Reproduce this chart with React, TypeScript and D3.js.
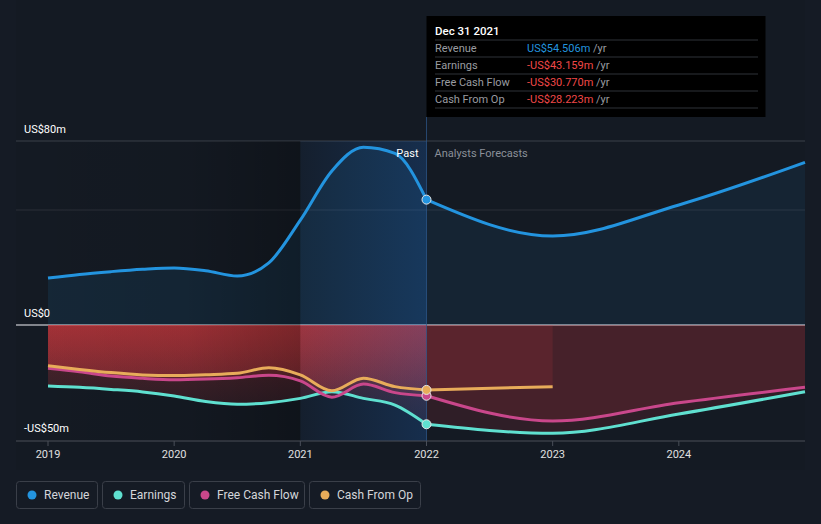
import React from "react";
import * as d3 from "d3";

const W = 821;
const H = 524;

const pastYears = [2019, 2019.25, 2019.5, 2019.75, 2020, 2020.25, 2020.5, 2020.75, 2021, 2021.25, 2021.5, 2021.75, 2022];
const revenuePast = [20.4, 22.0, 23.2, 24.2, 24.8, 23.6, 21.3, 27.0, 45.6, 67.0, 77.3, 74.6, 54.506];
const earningsPast = [-26.5, -27.1, -28.0, -29.1, -30.9, -33.3, -34.5, -33.8, -31.9, -29.0, -31.9, -34.8, -43.159];
const fcfPast = [-18.8, -20.3, -22.2, -23.2, -23.8, -23.5, -22.9, -21.9, -24.3, -31.4, -25.7, -29.4, -30.77];
const cfoPast = [-17.7, -19.3, -20.7, -21.7, -22.0, -21.6, -21.0, -18.6, -21.7, -28.6, -23.2, -26.8, -28.223];

const fcYears = [2022, 2023, 2024, 2025];
const revenueFc = [54.506, 38.7, 52.2, 70.7];
const earningsFc = [-43.159, -47.1, -38.7, -29.0];
const fcfFc = [-30.77, -41.7, -33.8, -27.1];
const cfoFcYears = [2022, 2023];
const cfoFc = [-28.223, -26.8];

const xTicks = [2019, 2020, 2021, 2022, 2023, 2024];
const yLabels = [
  { v: 80, t: "US$80m" },
  { v: 0, t: "US$0" },
  { v: -50, t: "-US$50m" },
];

const tooltipTitle = "Dec 31 2021";
const tooltipRows = [
  { label: "Revenue", value: "US$54.506m", neg: false },
  { label: "Earnings", value: "-US$43.159m", neg: true },
  { label: "Free Cash Flow", value: "-US$30.770m", neg: true },
  { label: "Cash From Op", value: "-US$28.223m", neg: true },
];

const legendItems = [
  { name: "Revenue", color: "#2394df" },
  { name: "Earnings", color: "#5fe0d0" },
  { name: "Free Cash Flow", color: "#c9478b" },
  { name: "Cash From Op", color: "#e8ac5a" },
];

const C = {
  rev: "#2394df",
  earn: "#5fe0d0",
  fcf: "#c9478b",
  cfo: "#e8ac5a",
  red: "#d83a3f",
};

const FONT = "Roboto, 'Noto Sans', sans-serif";

export default function App() {
  const x = d3.scaleLinear().domain([2019, 2025]).range([48, 805]);
  const y = d3.scaleLinear().domain([-50, 80]).range([440, 141]);
  const curve = d3.curveMonotoneX;

  const line = (xs: number[], vs: number[]) =>
    d3
      .line<number>()
      .x((_, i) => x(xs[i]))
      .y((v) => y(v))
      .curve(curve)(vs) || "";
  const area = (xs: number[], vs: number[]) =>
    d3
      .area<number>()
      .x((_, i) => x(xs[i]))
      .y0(y(0))
      .y1((v) => y(v))
      .curve(curve)(vs) || "";

  const plotLeft = 16;
  const plotRight = 805;
  const nowX = x(2022);
  const yearAgoX = x(2021);

  const legendBoxes = [
    { x: 16, w: 81 },
    { x: 102, w: 82 },
    { x: 189, w: 115 },
    { x: 309, w: 111 },
  ];

  return (
    <svg
      width={W}
      height={H}
      style={{ position: "absolute", left: 0, top: 0, fontFamily: FONT }}
    >
      <defs>
        <linearGradient id="pastRed" gradientUnits="userSpaceOnUse" x1="0" y1={y(0)} x2="0" y2={y(-50)}>
          <stop offset="0" stopColor={C.red} stopOpacity={0.36} />
          <stop offset="1" stopColor={C.red} stopOpacity={0.05} />
        </linearGradient>
        <linearGradient id="darkPast" gradientUnits="userSpaceOnUse" x1={plotLeft} y1="0" x2={yearAgoX} y2="0">
          <stop offset="0" stopColor="#000" stopOpacity={0} />
          <stop offset="0.6" stopColor="#000" stopOpacity={0.06} />
          <stop offset="1" stopColor="#000" stopOpacity={0.25} />
        </linearGradient>
        <linearGradient id="blueHi" gradientUnits="userSpaceOnUse" x1={yearAgoX} y1="0" x2={nowX} y2="0">
          <stop offset="0" stopColor="#1e6ed2" stopOpacity={0.06} />
          <stop offset="1" stopColor="#1e6ed2" stopOpacity={0.24} />
        </linearGradient>
      </defs>

      <rect x={0} y={0} width={W} height={H} fill="#151b25" />
      <rect x={plotLeft} y={0} width={plotRight - plotLeft} height={470} fill="#141a23" />

      {/* grid lines */}
      <line x1={plotLeft} x2={plotRight} y1={y(80)} y2={y(80)} stroke="#3b404a" strokeWidth={1} />
      <line x1={plotLeft} x2={plotRight} y1={y(50)} y2={y(50)} stroke="#2a2f38" strokeWidth={1} />
      <line x1={plotLeft} x2={plotRight} y1={y(0)} y2={y(0)} stroke="#a8abb2" strokeWidth={1.5} />

      {/* revenue areas */}
      <path d={area(pastYears, revenuePast)} fill={C.rev} fillOpacity={0.11} />
      <path d={area(fcYears, revenueFc)} fill={C.rev} fillOpacity={0.09} />

      {/* negative areas */}
      <path d={area(pastYears, earningsPast)} fill="url(#pastRed)" />
      <path d={area(pastYears, fcfPast)} fill="url(#pastRed)" />
      <path d={area(pastYears, cfoPast)} fill="url(#pastRed)" />
      <path d={area(fcYears, earningsFc)} fill={C.red} fillOpacity={0.14} />
      <path d={area(fcYears, fcfFc)} fill={C.red} fillOpacity={0.14} />
      <path d={area(cfoFcYears, cfoFc)} fill={C.red} fillOpacity={0.14} />

      {/* past shading */}
      <rect x={plotLeft} y={y(80)} width={yearAgoX - plotLeft} height={y(-50) - y(80) + 1} fill="url(#darkPast)" />
      <rect x={yearAgoX} y={y(80)} width={nowX - yearAgoX} height={y(-50) - y(80) + 1} fill="url(#blueHi)" />

      {/* tooltip vertical line */}
      <line x1={nowX} x2={nowX} y1={117} y2={y(-50) + 1} stroke="#2d5a8f" strokeOpacity={0.7} strokeWidth={1} />

      {/* lines */}
      <path d={line(pastYears, earningsPast)} fill="none" stroke={C.earn} strokeWidth={3} />
      <path d={line(fcYears, earningsFc)} fill="none" stroke={C.earn} strokeWidth={3} />
      <path d={line(pastYears, fcfPast)} fill="none" stroke={C.fcf} strokeWidth={3} />
      <path d={line(fcYears, fcfFc)} fill="none" stroke={C.fcf} strokeWidth={3} />
      <path d={line(pastYears, cfoPast)} fill="none" stroke={C.cfo} strokeWidth={3} />
      <path d={line(cfoFcYears, cfoFc)} fill="none" stroke={C.cfo} strokeWidth={3} />
      <path d={line(pastYears, revenuePast)} fill="none" stroke={C.rev} strokeWidth={3} />
      <path d={line(fcYears, revenueFc)} fill="none" stroke={C.rev} strokeWidth={3} />

      {/* markers */}
      {[
        { v: earningsFc[0], c: C.earn },
        { v: fcfFc[0], c: C.fcf },
        { v: cfoFc[0], c: C.cfo },
        { v: revenueFc[0], c: C.rev },
      ].map((m, i) => (
        <circle key={i} cx={nowX} cy={y(m.v)} r={4.5} fill={m.c} stroke="#e6e6e6" strokeWidth={1} />
      ))}

      {/* Past / forecast labels */}
      <text x={nowX - 8} y={157} textAnchor="end" fill="#ffffff" fontSize={11}>
        Past
      </text>
      <text x={nowX + 8} y={157} fill="#8b9099" fontSize={11}>
        Analysts Forecasts
      </text>

      {/* y labels */}
      {yLabels.map((l) => (
        <text key={l.t} x={24} y={y(l.v) - 8} fill="#ffffff" fontSize={11}>
          {l.t}
        </text>
      ))}

      {/* x axis */}
      <line x1={plotLeft} x2={plotRight} y1={y(-50) + 1} y2={y(-50) + 1} stroke="#4a4f59" strokeWidth={1} />
      {xTicks.map((t) => (
        <g key={t}>
          <line x1={x(t)} x2={x(t)} y1={y(-50) + 1} y2={y(-50) + 6} stroke="#4a4f59" strokeWidth={1} />
          <text x={x(t)} y={458} textAnchor="middle" fill="#e0e0e0" fontSize={11}>
            {t}
          </text>
        </g>
      ))}

      {/* tooltip */}
      <rect x={nowX} y={16} width={339} height={101} fill="#000000" />
      <text x={435} y={35} fill="#ffffff" fontSize={11.5} fontWeight={500}>
        {tooltipTitle}
      </text>
      {tooltipRows.map((r, i) => {
        const base = 40 + i * 17;
        return (
          <g key={r.label}>
            <line x1={435} x2={758} y1={base} y2={base} stroke="#2f3238" strokeWidth={1} />
            <text x={435} y={base + 12} fill="#9a9ca1" fontSize={11}>
              {r.label}
            </text>
            <text x={527} y={base + 12} fontSize={11}>
              <tspan fill={r.neg ? "#f04848" : "#2394df"}>{r.value}</tspan>
              <tspan fill="#9a9ca1"> /yr</tspan>
            </text>
          </g>
        );
      })}
      <line x1={435} x2={758} y1={108} y2={108} stroke="#2f3238" strokeWidth={1} />

      {/* legend */}
      {legendItems.map((it, i) => {
        const b = legendBoxes[i];
        return (
          <g key={it.name}>
            <rect x={b.x + 0.5} y={481.5} width={b.w} height={27} rx={3} fill="none" stroke="#3a3f49" strokeWidth={1} />
            <circle cx={b.x + 16} cy={495} r={4.5} fill={it.color} />
            <text x={b.x + 28} y={499} fill="#d4d6da" fontSize={12}>
              {it.name}
            </text>
          </g>
        );
      })}
    </svg>
  );
}
